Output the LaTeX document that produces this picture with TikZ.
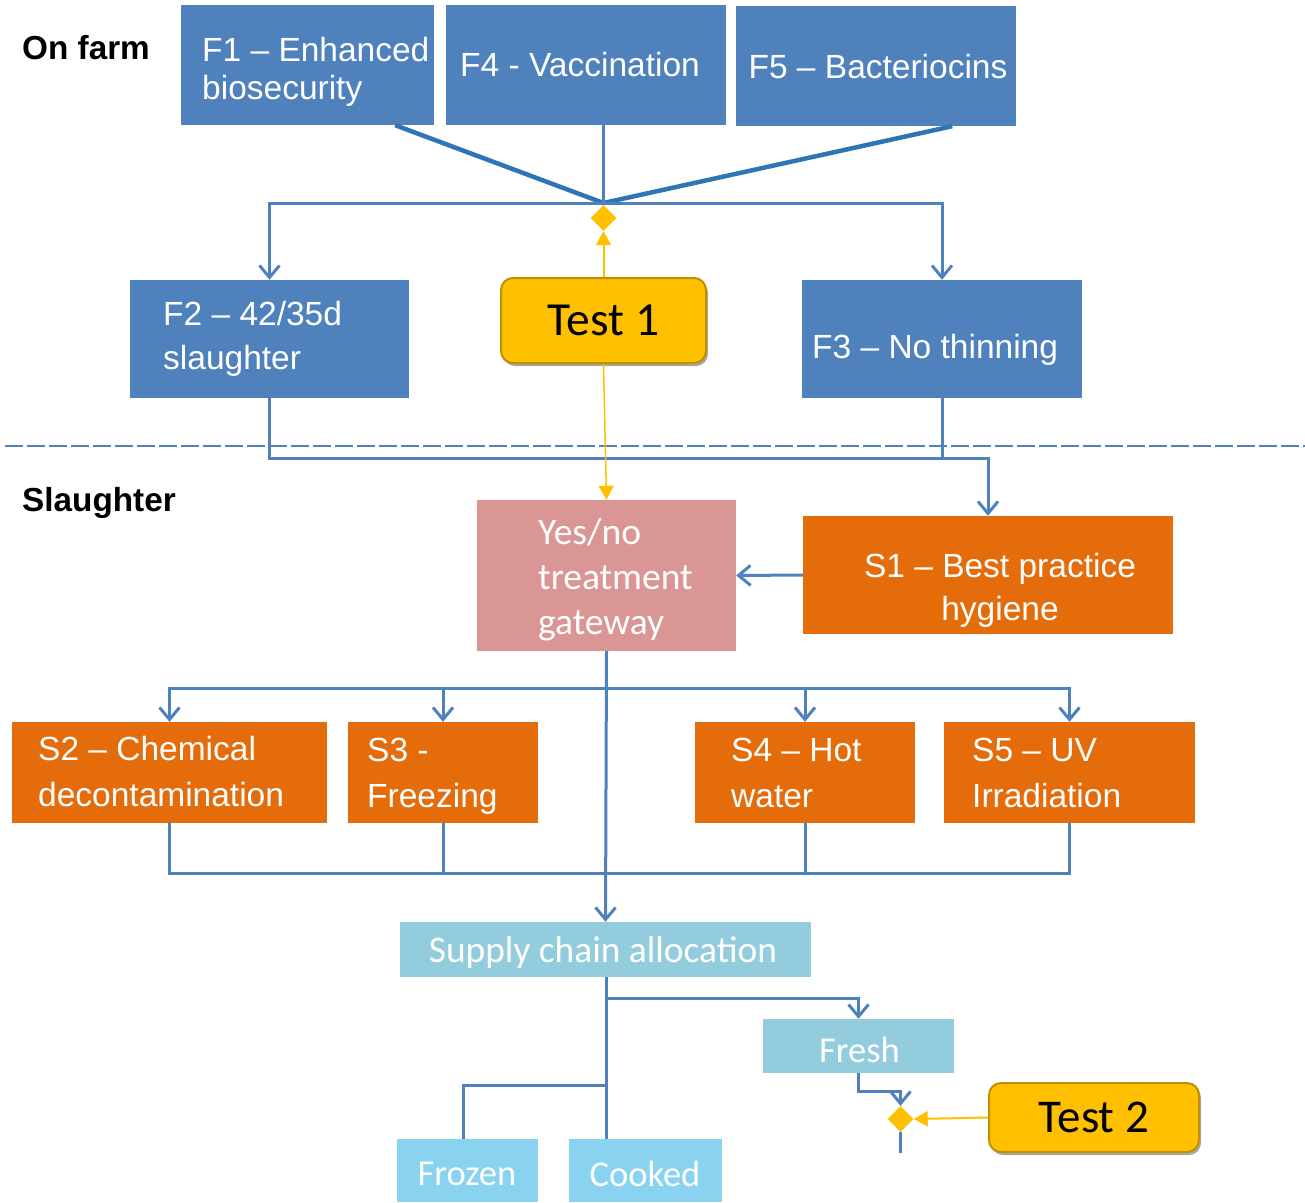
\documentclass[tikz,border=0pt]{standalone}
\usepackage{fontspec}
\setmainfont{Liberation Sans}
\newfontfamily\calf{Carlito}
\usetikzlibrary{arrows.meta,shapes.geometric,shadows}
\definecolor{farmblue}{HTML}{4F81BD}
\definecolor{deepblue}{HTML}{2E75B6}
\definecolor{slorange}{HTML}{E46C0A}
\definecolor{gatepink}{HTML}{D99694}
\definecolor{supblue}{HTML}{93CDDD}
\definecolor{skyblue}{HTML}{89D3F1}
\definecolor{testyel}{HTML}{FFC000}
\definecolor{testedge}{HTML}{BF9000}
\begin{document}
\begin{tikzpicture}[x=1pt,y=-1pt,
  box/.style={draw=none, inner sep=0pt, text=white},
  farmbox/.style={box, fill=farmblue},
  slbox/.style={box, fill=slorange},
  arialtxt/.style={font=\fontsize{33.5}{44}\selectfont},
  wtext/.style={text=white, inner sep=0pt, align=left, anchor=west, arialtxt},
  caltxt/.style={font=\calf\fontsize{37.5}{45}\selectfont},
  heading/.style={inner sep=0pt, anchor=west, font=\bfseries\fontsize{33.3}{36}\selectfont},
  conn/.style={draw=farmblue, line width=3pt},
  arr/.style={conn, -{Straight Barb[length=12pt,width=20pt]}},
  thickconn/.style={draw=deepblue, line width=4.5pt},
  yarr/.style={draw=testyel, line width=2pt, -{Triangle[length=14pt,width=15pt]}},
  testbox/.style={rounded corners=12pt, fill=testyel, draw=testedge, line width=2pt,
    drop shadow={shadow xshift=2pt, shadow yshift=-3pt, opacity=0.35, fill=black},
    inner sep=0pt, font=\calf\fontsize{47.5}{50}\selectfont},
  gate/.style={diamond, aspect=1, fill=testyel, draw=none, minimum width=26pt, minimum height=26pt, inner sep=0pt},
]
\useasboundingbox (0,0) rectangle (1305,1202);

% headings
\node[heading] (onfarm) at (22,48) {On farm};
\node[heading] (slaughter) at (22,503) {Slaughter};

% farm boxes
\node[farmbox, minimum width=253pt, minimum height=120pt] (f1) at (307.5,65) {};
\node[wtext, font=\fontsize{33.5}{38}\selectfont] (f1t) at (202,72) {F1 – Enhanced\\biosecurity};
\node[farmbox, minimum width=280pt, minimum height=120pt] (f4) at (586,65) {};
\node[text=white, inner sep=0pt, arialtxt] (f4t) at (580,65) {F4 - Vaccination};
\node[farmbox, minimum width=280pt, minimum height=120pt] (f5) at (876,66) {};
\node[text=white, inner sep=0pt, arialtxt] (f5t) at (878,67) {F5 – Bacteriocins};
\node[farmbox, minimum width=279pt, minimum height=118pt] (f2) at (269.5,339) {};
\node[wtext] (f2t) at (163,339) {F2 – 42/35d\\slaughter};
\node[farmbox, minimum width=280pt, minimum height=118pt] (f3) at (942,339) {};
\node[wtext] (f3t) at (812,350) {F3 – No thinning};

% test 1
\node[testbox, minimum width=205pt, minimum height=85pt] (t1) at (603.5,320.5) {Test 1};
\node[gate] (d1) at (603.5,218) {};
\coordinate (j1) at (603.5,203);

% top connectors
\draw[thickconn] ([xshift=-39pt]f1.south east) -- (j1);
\draw[thickconn] ([xshift=-64pt]f5.south east) -- (j1);
\draw[conn] (f4.south -| j1) -- (j1);
\draw[arr] (j1) -| (f2.north);
\draw[arr] (j1) -| (f3.north);
\draw[yarr] (t1.north -| d1) -- (d1.south);

% divider
\coordinate (dashL) at (5,446);
\coordinate (dashR) at (1305,446);
\draw[farmblue, line width=2.3pt, dash pattern=on 18pt off 4pt] (dashL) -- (dashR);

% slaughter boxes
\node[box, fill=gatepink, minimum width=259pt, minimum height=151pt] (gw) at (606.5,575.5) {};
\node[wtext, caltxt] (gwt) at (538,579.5) {Yes/no\\treatment\\gateway};
\node[slbox, minimum width=370pt, minimum height=118pt] (s1) at (988,575) {};
\node[text=white, inner sep=0pt, align=center, font=\fontsize{33.5}{43}\selectfont] (s1t) at (1000,590) {S1 – Best practice\\hygiene};

\node[slbox, minimum width=315pt, minimum height=101pt] (s2) at (169.5,772.5) {};
\node[wtext, font=\fontsize{33.5}{46}\selectfont] (s2t) at (38,772) {S2 – Chemical\\decontamination};
\node[slbox, minimum width=190pt, minimum height=101pt] (s3) at (443,772.5) {};
\node[wtext, font=\fontsize{33.5}{46}\selectfont] (s3t) at (367,776) {S3 -\\Freezing};
\node[slbox, minimum width=220pt, minimum height=101pt] (s4) at (805,772.5) {};
\node[wtext, font=\fontsize{33.5}{46}\selectfont] (s4t) at (731,773) {S4 – Hot\\water};
\node[slbox, minimum width=251pt, minimum height=101pt] (s5) at (1069.5,772.5) {};
\node[wtext, font=\fontsize{33.5}{46}\selectfont] (s5t) at (972,773) {S5 – UV\\Irradiation};

% F -> S1
\coordinate (bus1) at (600,458);
\draw[arr] (f2.south) |- (bus1) -| (s1.north);
\draw[conn] (f3.south) -- (f3.south |- bus1);
\draw[yarr, line width=1.5pt] (t1.south) -- (gw.north);
\draw[arr] (s1.west) -- (gw.east);

% gateway -> S2..S5
\coordinate (bus2) at (606.5,688);
\draw[arr] (bus2) -| (s2.north);
\draw[arr] (bus2) -| (s3.north);
\draw[arr] (bus2) -| (s4.north);
\draw[arr] (bus2) -| (s5.north);

% supply chain
\node[box, fill=supblue, minimum width=411pt, minimum height=55pt] (sc) at (605.5,949.5) {};
\node[text=white, inner sep=0pt, font=\calf\fontsize{37.4}{40}\selectfont] (sct) at (603,953) {Supply chain allocation};
\draw[arr] (gw.south) -- (sc.north);
\coordinate (bus3) at (606,873);
\draw[conn] (s2.south) |- (bus3) -| (s5.south);
\draw[conn] (s3.south) -- (s3.south |- bus3);
\draw[conn] (s4.south) -- (s4.south |- bus3);

% products
\node[box, fill=supblue, minimum width=191pt, minimum height=54pt] (fr) at (858.5,1046) {};
\node[text=white, inner sep=0pt, font=\calf\fontsize{36.5}{40}\selectfont] (frt) at (859.5,1050) {Fresh};
\node[box, fill=skyblue, minimum width=141pt, minimum height=63pt] (fz) at (467.5,1170.5) {};
\node[text=white, inner sep=0pt, font=\calf\fontsize{36.5}{40}\selectfont] (fzt) at (467,1174) {Frozen};
\node[box, fill=skyblue, minimum width=153pt, minimum height=63pt] (ck) at (645.5,1170.5) {};
\node[text=white, inner sep=0pt, font=\calf\fontsize{36.5}{40}\selectfont] (ckt) at (645,1174) {Cooked};

\coordinate (b4) at (606,998);
\coordinate (b5) at (606,1085);
\draw[conn] (sc.south -| b4) -- (b4 |- ck.north);
\draw[arr] (b4) -| (fr.north);
\draw[conn] (b5) -| (fz.north -| 463,0);

% test 2
\node[testbox, minimum width=210pt, minimum height=69pt, font=\calf\fontsize{47}{50}\selectfont] (t2) at (1094,1117.5) {Test 2};
\node[gate] (d2) at (900.5,1119) {};
\draw[arr] (fr.south) -- ++(0,18) -| (d2.north);
\draw[yarr] (t2.west) -- (d2.east);
\coordinate (d2end) at (900.5,1153);
\draw[conn] (d2.south) -- (d2end);
\end{tikzpicture}
\end{document}
